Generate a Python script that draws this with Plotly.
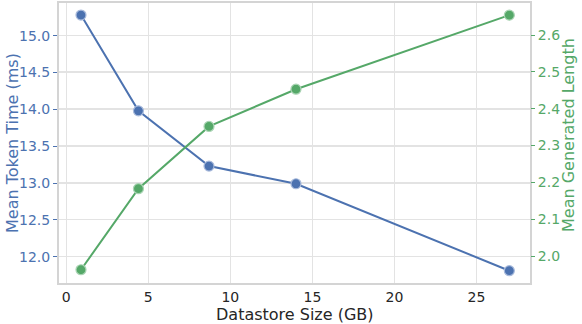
import plotly.graph_objects as go

datastore_gb = [0.9, 4.4, 8.7, 14.0, 27.0]
mean_token_time_ms = [15.28, 13.98, 13.23, 12.99, 11.81]
mean_generated_length = [1.963, 2.183, 2.352, 2.453, 2.654]

x_ticks = [0, 5, 10, 15, 20, 25]
left_ticks = [12.0, 12.5, 13.0, 13.5, 14.0, 14.5, 15.0]
right_ticks = [2.0, 2.1, 2.2, 2.3, 2.4, 2.5, 2.6]

x_title = "Datastore Size (GB)"
left_title = "Mean Token Time (ms)"
right_title = "Mean Generated Length"

BLUE = "#4c72b0"
GREEN = "#55a868"
GRID = "#e3e3e3"
BORDER = "#d4d4d4"
FONT = "DejaVu Sans"

fig = go.Figure()
fig.add_trace(go.Scatter(
    x=datastore_gb, y=mean_token_time_ms, mode="lines+markers",
    line=dict(color=BLUE, width=2),
    marker=dict(size=10, color=BLUE, line=dict(color="#a9bbdc", width=1.2)),
    yaxis="y", showlegend=False))
fig.add_trace(go.Scatter(
    x=datastore_gb, y=mean_generated_length, mode="lines+markers",
    line=dict(color=GREEN, width=2),
    marker=dict(size=10, color=GREEN, line=dict(color="#aad4b4", width=1.2)),
    yaxis="y2", showlegend=False))

fig.update_layout(
    width=582, height=324,
    margin=dict(l=59, r=52, t=3, b=41, autoexpand=False),
    paper_bgcolor="white", plot_bgcolor="white",
    font=dict(family=FONT, size=14, color="#262626"),
    xaxis=dict(
        range=[-0.44, 28.26], tickvals=x_ticks, ticktext=[str(t) for t in x_ticks],
        showgrid=True, gridcolor=GRID, gridwidth=1.2, zeroline=False,
        showline=True, linecolor=BORDER, linewidth=2, mirror=True,
        ticks="", automargin=False,
        tickfont=dict(size=14, color="#262626"),
    ),
    yaxis=dict(
        range=[11.643, 15.444], tickvals=left_ticks, ticktext=[f"{v:.1f}" for v in left_ticks],
        showgrid=True, gridcolor=GRID, gridwidth=1.2, zeroline=False,
        showline=True, linecolor=BORDER, linewidth=2, mirror=True,
        ticks="outside", ticklen=4, tickcolor=BLUE, tickwidth=1, automargin=False,
        tickfont=dict(size=14, color=BLUE),
    ),
    yaxis2=dict(
        range=[1.927, 2.687], tickvals=right_ticks, ticktext=[f"{v:.1f}" for v in right_ticks],
        overlaying="y", side="right",
        showgrid=True, gridcolor=GRID, gridwidth=1.2, zeroline=False,
        showline=False, automargin=False,
        ticks="outside", ticklen=4, tickcolor=GREEN, tickwidth=1,
        tickfont=dict(size=14, color=GREEN),
    ),
    annotations=[
        dict(text=x_title, xref="paper", yref="paper", x=0.501, y=0, yshift=-31,
             xanchor="center", yanchor="middle", showarrow=False,
             font=dict(size=16, color="#262626")),
        dict(text=left_title, xref="paper", yref="paper", x=0, y=0.5, xshift=-47, yshift=0,
             xanchor="center", yanchor="middle", textangle=-90, showarrow=False,
             font=dict(size=16, color=BLUE)),
        dict(text=right_title, xref="paper", yref="paper", x=1, y=0.5, xshift=38, yshift=8,
             xanchor="center", yanchor="middle", textangle=-90, showarrow=False,
             font=dict(size=16, color=GREEN)),
    ],
)

fig.write_html("out.html", config={"displayModeBar": False},
               post_script="document.body.style.margin='0';document.body.style.padding='0';")
